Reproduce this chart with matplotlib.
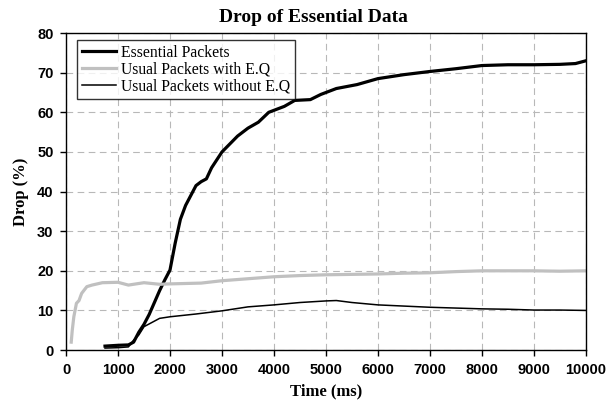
import numpy as np
import matplotlib.pyplot as plt

# drop rate (%) versus simulation time (ms)
t_essential = [750, 1000, 1200, 1300, 1400, 1500, 1600, 1700, 1800, 1900, 2000, 2100, 2200,
               2300, 2400, 2500, 2600, 2700, 2800, 2900, 3000, 3300, 3500, 3700, 3900, 4200,
               4400, 4700, 4900, 5200, 5600, 6000, 6500, 7000, 7500, 8000, 8500, 9000,
               9500, 9800, 10000]
essential = [1.0, 1.2, 1.3, 2.0, 4.5, 6.5, 9.0, 12.0, 15.0, 17.7, 20.2, 27.0, 33.0,
             36.5, 39.0, 41.5, 42.5, 43.2, 46.0, 48.0, 50.0, 54.0, 56.0, 57.5, 60.0, 61.5,
             63.0, 63.2, 64.5, 66.0, 67.0, 68.5, 69.5, 70.3, 71.0, 71.8, 72.0, 72.0,
             72.1, 72.3, 73.0]

t_with_eq = [100, 120, 150, 200, 250, 300, 400, 500, 700, 1000, 1200, 1500,
             1800, 2000, 2300, 2600, 3000, 3500, 4000, 4500, 5000, 5500, 6000, 6500, 7000,
             7500, 8000, 8500, 9000, 9500, 10000]
with_eq = [2.0, 5.0, 8.4, 11.8, 12.5, 14.3, 16.0, 16.4, 17.0, 17.1, 16.4, 17.0,
           16.6, 16.7, 16.8, 16.9, 17.5, 18.0, 18.5, 18.8, 19.0, 19.1, 19.2, 19.4, 19.5,
           19.8, 20.0, 20.0, 20.0, 19.9, 20.0]

t_without_eq = [750, 1000, 1200, 1300, 1400, 1500, 1600, 1700, 1800, 1900, 2000, 2500, 3000,
                3500, 4000, 4500, 5000, 5200, 5500, 6000, 6500, 7000, 7500, 8000, 8500, 9000,
                9500, 10000]
without_eq = [0.5, 0.6, 0.8, 2.5, 3.8, 5.9, 6.6, 7.3, 8.0, 8.2, 8.4, 9.1, 9.9,
              10.9, 11.4, 12.0, 12.4, 12.5, 12.0, 11.4, 11.1, 10.8, 10.6, 10.4, 10.3, 10.1,
              10.1, 10.0]

plt.rcParams['font.family'] = 'Liberation Serif'

fig = plt.figure(figsize=(6.08, 4.08), dpi=100)
ax = fig.add_axes([0.1086, 0.142, 0.855, 0.777])

ax.plot(t_essential, essential, color='black', lw=2.3, label='Essential Packets')
ax.plot(t_with_eq, with_eq, color='#c0c0c0', lw=2.3, label='Usual Packets with E.Q')
ax.plot(t_without_eq, without_eq, color='black', lw=1.1, label='Usual Packets without E.Q')

ax.set_xlim(0, 10000)
ax.set_ylim(0, 80)
ax.set_xticks(np.arange(0, 10001, 1000))
ax.set_yticks(np.arange(0, 81, 10))
ax.grid(True, color='#b8b8b8', ls=(0, (6, 4)), lw=0.8)
ax.set_axisbelow(True)

for lab in ax.get_xticklabels() + ax.get_yticklabels():
    lab.set_fontfamily('Liberation Sans')
    lab.set_fontweight('bold')
    lab.set_fontsize(10.5)
ax.tick_params(direction='out', length=4, width=1, pad=5)
for s in ax.spines.values():
    s.set_linewidth(1.0)

fig.text(0.515, 0.945, 'Drop of Essential Data', fontsize=14, fontweight='bold',
         ha='center', va='baseline')
ax.set_xlabel('Time (ms)', fontsize=12, fontweight='bold', labelpad=5)
ax.set_ylabel('Drop (%)', fontsize=12, fontweight='bold', labelpad=6)

leg = ax.legend(loc='upper left', bbox_to_anchor=(0.021, 0.978), fontsize=11.3, frameon=True,
                fancybox=False, edgecolor='black', handlelength=2.2, handletextpad=0.3,
                labelspacing=0.05, borderpad=0.3, borderaxespad=0.0)
leg.get_frame().set_linewidth(1.0)

fig.savefig('out.png', dpi=100)
